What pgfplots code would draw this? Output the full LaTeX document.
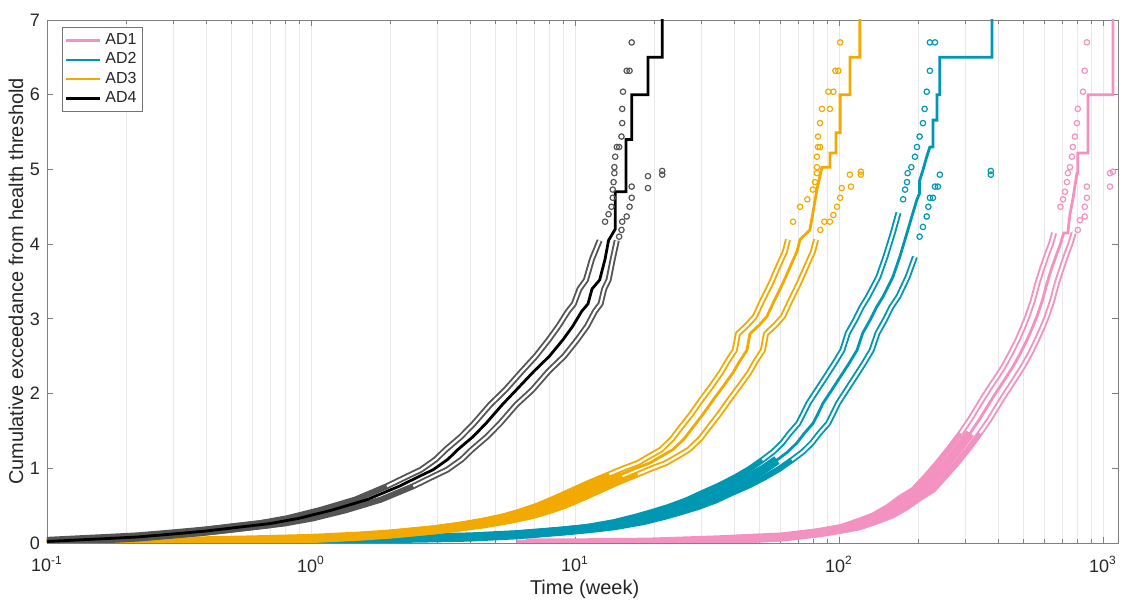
\documentclass[border=0pt]{standalone}
\usepackage{fontspec}
\setmainfont{Liberation Sans}
\usepackage{pgfplots}
\usepackage{pgfplotstable}
\pgfplotsset{compat=1.18}
\definecolor{cAD1}{RGB}{243,146,192}
\definecolor{cAD2}{RGB}{0,151,178}
\definecolor{cAD3}{RGB}{242,170,0}
\definecolor{cAD4}{RGB}{0,0,0}
\definecolor{bAD4}{RGB}{85,85,85}

% AD1
\pgfplotstableread{
x y xu xl
6.5 0.00 6.0 7.1
10 0.00 9.2 10.9
19 0.01 17.5 20.7
34.5 0.04 31.7 37.6
61 0.08 56.1 66.5
85 0.14 78.2 92.7
110 0.21 101 120
130 0.30 120 142
147 0.37 135 160
166 0.48 153 181
185 0.60 170 202
208 0.71 191 227
230 0.88 212 251
257 1.07 236 280
285 1.27 262 311
314 1.47 289 342
340 1.65 313 371
364 1.82 335 397
385 1.96 354 420
407 2.09 374 444
430 2.22 396 469
456 2.36 420 497
485 2.53 446 529
516 2.72 475 562
540 2.88 497 589
562 3.03 517 613
590 3.25 543 643
614 3.48 565 669
640 3.68 589 698
670 3.88 616 730
690 4.00 635 752
710 4.15 653 775
736 4.15 nan nan
750 4.40 nan nan
769 4.60 nan nan
785 4.80 nan nan
797 4.95 nan nan
803 4.95 nan nan
803 5.22 nan nan
877 5.22 nan nan
877 6.00 nan nan
1091 6.00 nan nan
1091 7.50 nan nan
}\tabA

% AD2
\pgfplotstableread{
x y xu xl
0.30 0.01 0.27 0.34
0.60 0.02 0.53 0.68
1.0 0.03 0.88 1.14
2.0 0.06 1.76 2.28
3.0 0.07 2.64 3.42
4.0 0.08 3.52 4.56
6.0 0.11 5.28 6.84
9.0 0.16 7.92 10.3
12.4 0.21 10.9 14.1
16.0 0.28 14.1 18.2
19.2 0.35 16.9 21.9
22.0 0.41 19.4 25.1
25.6 0.48 22.5 29.2
30.0 0.57 26.4 34.2
34.5 0.67 30.4 39.3
40.0 0.77 35.2 45.6
46.0 0.88 40.5 52.4
52.0 0.99 45.8 59.3
58.2 1.11 51.2 66.3
64.0 1.22 56.3 73.0
69.3 1.34 61.0 79.0
74.0 1.47 65.1 84.4
79.7 1.60 70.1 90.9
83.0 1.72 73.0 94.6
87.0 1.87 76.6 99.2
94.0 2.05 82.7 107
101 2.22 88.9 115
109 2.40 95.9 124
117 2.58 103 133
123 2.81 108 140
131 2.98 115 149
139 3.16 122 158
147 3.30 129 168
160 3.56 141 182
170 3.83 150 194
181 4.15 160 nan
190.7 4.42 168 nan
197.5 4.60 nan nan
202 4.68 nan nan
202 4.85 nan nan
208 4.99 nan nan
215 5.17 nan nan
221 5.30 nan nan
227 5.30 nan nan
227 5.66 nan nan
235 5.66 nan nan
235 6.00 nan nan
241 6.00 nan nan
241 6.50 nan nan
380 6.50 nan nan
380 7.50 nan nan
}\tabB

% AD3
\pgfplotstableread{
x y xu xl
0.10 0.01 0.09 0.115
0.30 0.02 0.27 0.345
0.60 0.04 0.54 0.69
1.0 0.06 0.9 1.15
1.5 0.09 1.35 1.73
2.0 0.12 1.8 2.3
3.0 0.18 2.7 3.45
4.0 0.24 3.6 4.6
5.0 0.30 4.5 5.75
6.0 0.36 5.4 6.9
7.0 0.43 6.3 8.05
8.0 0.50 7.2 9.2
9.3 0.60 8.4 10.7
10.8 0.70 9.7 12.4
12.4 0.80 11.2 14.3
15.0 0.92 13.5 17.3
17.0 1.00 15.3 19.6
19.2 1.07 17.3 22.1
21.0 1.15 18.9 24.2
23.5 1.25 21.2 27.0
26.0 1.40 23.4 29.9
28.0 1.55 25.2 32.2
30.5 1.72 27.5 35.1
33.3 1.91 30.0 38.3
36.5 2.10 32.9 42.0
39.7 2.28 35.7 45.7
42.0 2.43 37.8 48.3
44.8 2.58 40.3 51.5
46.0 2.80 41.4 52.9
50.0 2.92 45.0 57.5
53.3 3.03 48.0 61.3
57.0 3.25 51.3 65.6
61.4 3.48 55.3 70.6
65.0 3.68 58.5 74.8
69.3 3.90 62.4 79.7
71.2 4.06 64.1 81.9
77.6 4.19 nan nan
79.7 4.42 nan nan
82.5 4.73 nan nan
86.2 5.03 nan nan
92.4 5.03 nan nan
92.4 5.22 nan nan
97.4 5.22 nan nan
97.4 5.49 nan nan
101 5.49 nan nan
101 6.00 nan nan
110 6.00 nan nan
110 6.50 nan nan
120 6.50 nan nan
120 7.50 nan nan
}\tabC

% AD4
\pgfplotstableread{
x y xu xl
0.10 0.02 0.090 0.113
0.13 0.04 0.117 0.147
0.17 0.06 0.153 0.192
0.22 0.08 0.198 0.249
0.30 0.12 0.270 0.339
0.40 0.16 0.360 0.452
0.50 0.20 0.450 0.565
0.70 0.26 0.630 0.791
0.90 0.33 0.810 1.02
1.20 0.44 1.08 1.36
1.63 0.58 1.47 1.84
2.16 0.76 1.94 2.44
2.60 0.90 2.34 2.94
2.90 0.98 2.61 3.28
3.30 1.12 2.97 3.73
3.60 1.25 3.24 4.07
4.10 1.42 3.69 4.63
4.60 1.60 4.14 5.20
5.30 1.85 4.77 5.99
6.00 2.05 5.45 6.90
7.00 2.30 6.30 7.95
8.00 2.50 7.10 9.10
9.00 2.72 7.95 10.2
9.80 2.90 8.65 11.1
10.6 3.10 9.40 11.9
11.2 3.20 9.90 12.5
11.6 3.40 10.4 12.9
12.4 3.52 11.0 13.4
13.0 3.80 11.6 13.9
13.4 4.05 12.4 14.4
14.2 4.20 nan nan
14.2 4.70 nan nan
15.6 4.70 nan nan
15.6 5.40 nan nan
16.4 5.40 nan nan
16.4 6.00 nan nan
18.9 6.00 nan nan
18.9 6.50 nan nan
21.4 6.50 nan nan
21.4 7.50 nan nan
}\tabD

\pgfplotsset{
  bandout/.style={#1, line width=3.0pt, line join=round, forget plot},
  bandin/.style={white, line width=1.1pt, line join=round, forget plot, restrict y to domain=#1:8},
  bandfill/.style 2 args={#1, line width=4.6pt, line join=round, forget plot, restrict y to domain=-1:#2},
  sparse/.style={#1, only marks, mark=o, mark size=1.35pt, mark options={line width=0.6pt}, forget plot},
  mid/.style={#1, line width=1.4pt},
}

\begin{document}
\begin{tikzpicture}
\begin{axis}[
  name=ax,
  scale only axis,
  width=535.5pt, height=261.5pt,
  xmode=log,
  xmin=0.1, xmax=1140, ymin=0, ymax=7,
  xtick={0.1,1,10,100,1000},
  xticklabels={10\textsuperscript{-1},10\textsuperscript{0},10\textsuperscript{1},10\textsuperscript{2},10\textsuperscript{3}},
  minor xtick={0.2,0.3,0.4,0.5,0.6,0.7,0.8,0.9,2,3,4,5,6,7,8,9,20,30,40,50,60,70,80,90,200,300,400,500,600,700,800,900},
  ytick={0,1,2,3,4,5,6,7},
  /pgf/number format/assume math mode=true,
  tick align=inside,
  major tick length=3pt, minor tick length=2pt,
  xmajorgrids, xminorgrids,
  major grid style={black!9, line width=0.4pt},
  minor grid style={black!9, line width=0.4pt},
  axis line style={black!50},
  every tick/.style={black!50},
  tick label style={font=\fontsize{9}{10}\selectfont, text=black!85},
  xticklabel style={yshift=-3pt},
  label style={font=\fontsize{10}{12}\selectfont, text=black!85},
  xlabel={Time (week)},
  ylabel={Cumulative exceedance from health threshold},
  xlabel style={at={(axis description cs:0.502,-0.088)}, anchor=center},
  ylabel style={at={(axis description cs:-0.029,0.5)}, anchor=center},
  clip=true,
  legend style={at={(axis description cs:0.014,0.986)}, anchor=north west,
    draw=black!55, line width=0.5pt, font=\fontsize{8}{9}\selectfont, text=black!85,
    inner sep=1pt, row sep=-1.5pt, cells={anchor=west}},
  legend image code/.code={\draw[#1] (0cm,0cm) -- (0.6cm,0cm);},
]
% AD1
\addplot[bandfill={cAD1}{1.5}] table[x=x,y=y] {\tabA};
\addplot[bandout=cAD1] table[x=xu,y=y] {\tabA};
\addplot[bandout=cAD1] table[x=xl,y=y] {\tabA};
\addplot[bandin=1.4] table[x=xu,y=y] {\tabA};
\addplot[bandin=1.4] table[x=xl,y=y] {\tabA};
\addplot[sparse=cAD1] coordinates {(690,4.5)(706,4.6)(718,4.7)(730,4.83)(736,4.95)(750,5.03)(763,5.17)(769,5.3)(783,5.44)(797,5.62)(803,5.81)(840,6.04)(853,6.32)(869,6.7)
 (803,4.19)(818,4.32)(853,4.37)(853,4.5)(869,4.62)(869,4.77)(1063,4.77)(1063,4.95)(1091,4.97)};
\addplot[mid=cAD1] table[x=x,y=y] {\tabA};
\addlegendentry{AD1}
% AD2
\addplot[bandfill={cAD2}{1.2}] table[x=x,y=y] {\tabB};
\addplot[bandout=cAD2] table[x=xu,y=y] {\tabB};
\addplot[bandout=cAD2] table[x=xl,y=y] {\tabB};
\addplot[bandin=1.1] table[x=xu,y=y] {\tabB};
\addplot[bandin=1.1] table[x=xl,y=y] {\tabB};
\addplot[sparse=cAD2] coordinates {(175,4.6)(178,4.73)(181,4.83)(182,4.95)(188,5.03)(194,5.17)(197.5,5.3)(202,5.44)(208,5.62)(211,5.81)(215,6.04)(221,6.32)(221,6.7)(231,6.7)
 (202,4.1)(208,4.23)(215,4.37)(218,4.5)(221,4.62)(227,4.62)(231,4.77)(237,4.77)(241,4.93)(376,4.93)(376,4.98)};
\addplot[mid=cAD2] table[x=x,y=y] {\tabB};
\addlegendentry{AD2}
% AD3
\addplot[bandfill={cAD3}{0.95}] table[x=x,y=y] {\tabC};
\addplot[bandout=cAD3] table[x=xu,y=y] {\tabC};
\addplot[bandout=cAD3] table[x=xl,y=y] {\tabC};
\addplot[bandin=0.85] table[x=xu,y=y] {\tabC};
\addplot[bandin=0.85] table[x=xl,y=y] {\tabC};
\addplot[sparse=cAD3] coordinates {(67,4.3)(71.2,4.5)(75.9,4.6)(79.7,4.73)(81.1,4.83)(82.5,4.95)(82.5,5.03)(82.5,5.17)(83.3,5.3)(84.8,5.3)(83.3,5.44)(84.8,5.62)(86.2,5.81)(92.4,5.81)(91.1,6.04)(95.2,6.04)(96.9,6.32)(99.4,6.32)(101,6.7)
 (85,4.19)(88,4.3)(92.4,4.3)(95.2,4.39)(98.3,4.5)(101,4.62)(102.4,4.75)(111,4.77)(110,4.93)(121,4.93)(121,4.97)};
\addplot[mid=cAD3] table[x=x,y=y] {\tabC};
\addlegendentry{AD3}
% AD4
\addplot[bandfill={bAD4}{0.7}] table[x=x,y=y] {\tabD};
\addplot[bandout=bAD4] table[x=xu,y=y] {\tabD};
\addplot[bandout=bAD4] table[x=xl,y=y] {\tabD};
\addplot[bandin=0.6] table[x=xu,y=y] {\tabD};
\addplot[bandin=0.6] table[x=xl,y=y] {\tabD};
\addplot[sparse=bAD4] coordinates {(13.0,4.3)(13.4,4.4)(13.75,4.5)(13.9,4.62)(13.9,4.73)(14.0,4.83)(14.1,4.95)(14.1,5.03)(14.2,5.17)(14.4,5.3)(14.7,5.3)(15.0,5.44)(15.1,5.62)(15.1,5.81)(15.2,6.04)(15.7,6.32)(16.1,6.32)(16.4,6.7)
 (14.7,4.1)(15.0,4.19)(15.1,4.3)(15.7,4.37)(16.1,4.5)(16.4,4.62)(16.4,4.77)(18.9,4.75)(18.9,4.91)(21.4,4.93)(21.4,4.98)};
\addplot[mid=cAD4] table[x=x,y=y] {\tabD};
\addlegendentry{AD4}
\end{axis}
\pgfresetboundingbox
\path ([shift={(-23.5pt,-29pt)}]ax.south west) rectangle ([shift={(4.5pt,10pt)}]ax.north east);
\end{tikzpicture}
\end{document}
